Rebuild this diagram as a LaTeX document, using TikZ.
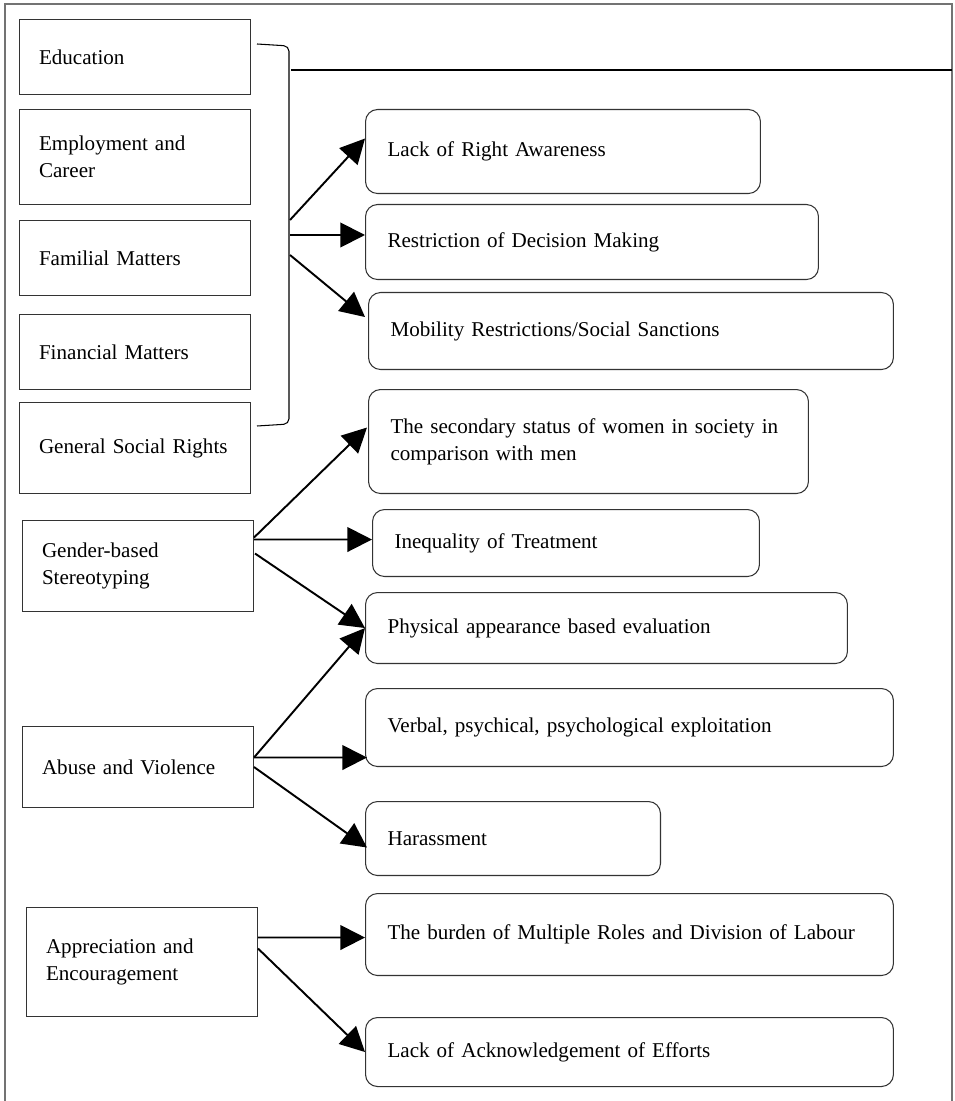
\documentclass[tikz,border=0pt]{standalone}
\usepackage{fontspec}
\setmainfont{Liberation Serif}
\usetikzlibrary{arrows.meta,calc,positioning}

\begin{document}
\begin{tikzpicture}[x=0.02cm,y=-0.02cm,
  font=\fontsize{12}{15.5}\selectfont,
  sqbox/.style={draw=black!80,line width=0.6pt,anchor=north west,align=left,
    inner xsep=0.39cm,text width=3.84cm,minimum height=#1},
  rndbox/.style 2 args={draw=black!80,line width=0.6pt,rounded corners=0.24cm,
    anchor=north west,align=left,inner xsep=0.44cm,text width=#1,minimum height=#2},
  arr/.style={-{Triangle[length=14pt,width=14pt]},line width=1.1pt}]
  \useasboundingbox (0,0) rectangle (955,1101);
  % --- frame
  \draw[black!55,line width=1pt] (5,1101) -- (5,4) -- (952,4) -- (952,1101);
  \draw[line width=0.6pt] (291,70) -- (952,70);
  % --- rights group
  \foreach \n/\y/\h/\t in {edu/19/1.5cm/Education,emp/109/1.9cm/{Employment and\\Career},
      fam/220/1.5cm/Familial Matters,fin/314/1.5cm/Financial Matters,gsr/402/1.82cm/General Social Rights} {
    \node[sqbox=\h] (\n) at (19,\y) {\t};
  }
  \draw[line width=0.6pt,rounded corners=3pt] (257,44) -- (289,46) -- (289,424) -- (257,426);
  \coordinate (b1) at (290,220);
  \coordinate (b2) at (290,235);
  \coordinate (b3) at (290,255);
  \node[rndbox={7.02cm}{1.68cm}] (law) at (365,109) {Lack of Right Awareness};
  \node[rndbox={8.18cm}{1.5cm}] (rdm) at (365,204) {Restriction of Decision Making};
  \node[rndbox={9.62cm}{1.54cm}] (mob) at (368,292) {Mobility Restrictions/Social Sanctions};
  \draw[arr] (b1) -- ($(law.west)+(0,-13)$);
  \draw[arr] (b2) -- (b2 -| rdm.west);
  \draw[arr] (b3) -- ($(mob.west)+(-3,-14)$);
  % --- stereotyping
  \node[sqbox=1.82cm] (gen) at (22,520) {Gender-based\\Stereotyping};
  \node[rndbox={7.92cm}{2.08cm}] (sec) at (368,389) {The secondary status of women in society in\\comparison with men};
  \node[rndbox={6.86cm}{1.34cm}] (ineq) at (372,509) {Inequality of Treatment};
  \node[rndbox={8.76cm}{1.42cm}] (phys) at (365,592) {Physical appearance based evaluation};
  \draw[arr] ($(gen.east)+(0,-28.5)$) -- ($(sec.west)+(-1,-14)$);
  \draw[arr] ($(gen.east)+(0,-26.5)$) -- ($(ineq.west)+(0,-3.5)$);
  \draw[arr] ($(gen.east)+(1,-12.5)$) -- (phys.west);
  % --- abuse
  \node[sqbox=1.62cm] (abu) at (22,726) {Abuse and Violence};
  \node[rndbox={9.68cm}{1.56cm}] (verb) at (365,688) {Verbal, psychical, psychological exploitation};
  \node[rndbox={5.02cm}{1.48cm}] (har) at (365,801) {Harassment};
  \draw[arr] ($(abu.east)+(0,-9.5)$) -- (phys.west);
  \draw[arr] ($(abu.east)+(0,-9.5)$) -- ($(verb.west)+(2,30)$);
  \draw[arr] (abu.east) -- ($(har.west)+(2,9)$);
  % --- appreciation
  \node[sqbox=2.18cm] (app) at (26,907) {Appreciation and\\Encouragement};
  \node[rndbox={9.68cm}{1.64cm}] (bur) at (365,893) {The burden of Multiple Roles and Division of Labour};
  \node[rndbox={9.68cm}{1.38cm}] (ack) at (365,1017) {Lack of Acknowledgement of Efforts};
  \draw[arr] ($(app.east)+(0,-24.5)$) -- ($(bur.west)+(0,3)$);
  \draw[arr] ($(app.east)+(0,-13.5)$) -- (ack.west);
\end{tikzpicture}
\end{document}
